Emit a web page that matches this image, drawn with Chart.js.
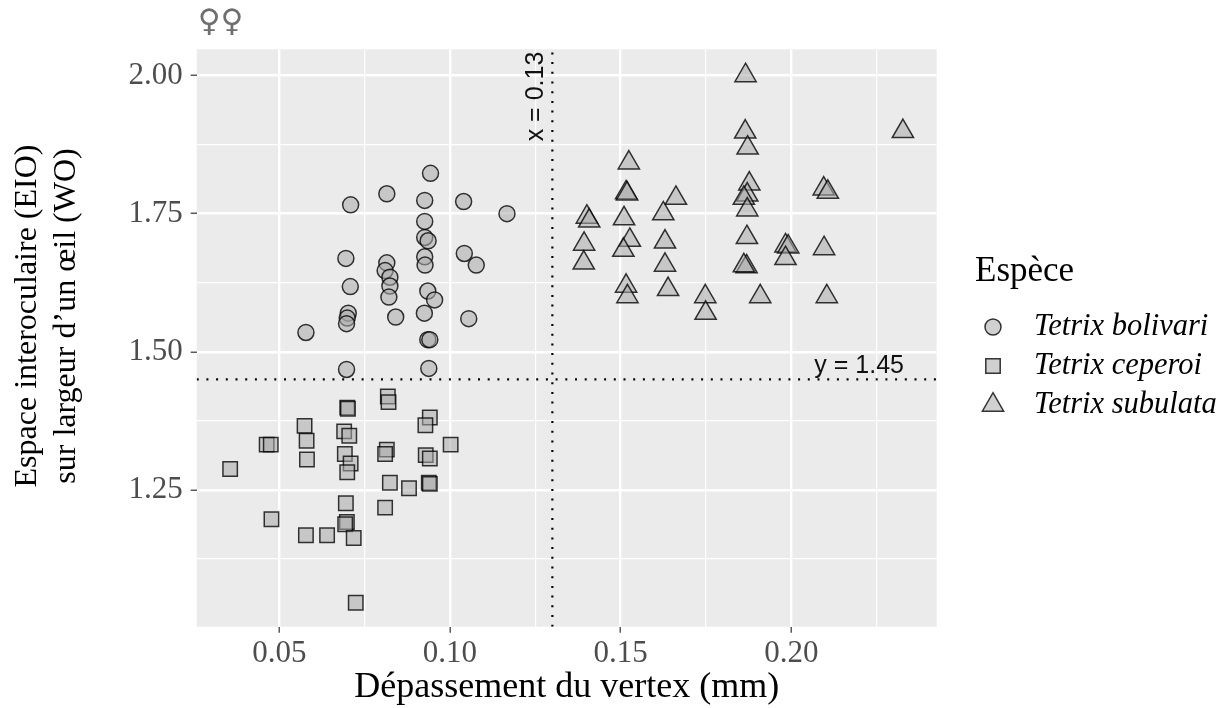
<!DOCTYPE html>
<html>
<head>
<meta charset="utf-8">
<script src="https://cdn.jsdelivr.net/npm/chart.js@4.4.1/dist/chart.umd.min.js"></script>
<style>
  html, body { margin: 0; padding: 0; background: #fff; }
</style>
</head>
<body>
<canvas id="chart" width="1231" height="708"></canvas>
<script>
// axis ticks (major ones get labels, minor ones only a thin grid line)
const xTicks = [0.05, 0.075, 0.10, 0.125, 0.15, 0.175, 0.20, 0.225];
const xMajor = [0.05, 0.10, 0.15, 0.20];
const yTicks = [1.125, 1.25, 1.375, 1.5, 1.625, 1.75, 1.875, 2.0];
const yMajor = [1.25, 1.5, 1.75, 2.0];
const xRange = [0.0258, 0.2426];
const yRange = [1.0025, 2.0475];

// thresholds
const xCut = 0.13;
const yCut = 1.45;

const species = ['Tetrix bolivari', 'Tetrix ceperoi', 'Tetrix subulata'];
const yTitle = ['Espace interoculaire (EIO)', 'sur largeur d\u2019un \u0153il (WO)'];

const bolivariX = [0.0943,0.0815,0.0709,0.0926,0.1040,0.1167,0.0926,0.0926,0.0936,0.0695,0.0815,0.0810,0.0824,0.0926,0.0927,0.1042,0.1077,0.0708,0.0824,0.0821,0.0935,0.0955,0.0702,0.0699,0.0697,0.0841,0.0925,0.1055,0.0578,0.0935,0.0941,0.0697,0.0938];
const bolivariY = [1.823,1.786,1.766,1.774,1.772,1.750,1.736,1.707,1.701,1.669,1.661,1.647,1.635,1.672,1.657,1.678,1.657,1.618,1.619,1.599,1.610,1.594,1.570,1.561,1.551,1.563,1.570,1.560,1.535,1.522,1.522,1.468,1.470];

const ceperoiX = [0.0818,0.0820,0.0699,0.0701,0.0941,0.0928,0.0574,0.0690,0.0705,0.0580,0.0463,0.0475,0.1002,0.0815,0.0810,0.0692,0.0929,0.0941,0.0581,0.0709,0.0699,0.0356,0.0824,0.0880,0.0938,0.0941,0.0695,0.0810,0.0477,0.0698,0.0693,0.0578,0.0640,0.0718,0.0724];
const ceperoiY = [1.419,1.409,1.399,1.397,1.381,1.367,1.366,1.356,1.348,1.339,1.332,1.332,1.332,1.323,1.315,1.315,1.313,1.307,1.305,1.298,1.282,1.288,1.263,1.253,1.263,1.261,1.226,1.218,1.197,1.192,1.188,1.168,1.168,1.163,1.046];

const subulataX = [0.1866,0.2327,0.1865,0.1872,0.1524,0.1877,0.1871,0.1861,0.1871,0.2095,0.2107,0.1516,0.1519,0.1662,0.1401,0.1408,0.1510,0.1625,0.1870,0.1527,0.1630,0.1393,0.1508,0.1983,0.1991,0.2096,0.1392,0.1630,0.1869,0.1861,0.1983,0.1516,0.1520,0.1639,0.1748,0.1749,0.1909,0.2104];
const subulataY = [2.000,1.899,1.898,1.869,1.842,1.804,1.784,1.778,1.757,1.795,1.789,1.788,1.786,1.778,1.744,1.737,1.741,1.750,1.707,1.702,1.699,1.695,1.684,1.692,1.690,1.687,1.661,1.657,1.654,1.656,1.669,1.619,1.600,1.613,1.600,1.570,1.600,1.600];

const pointFill = 'rgba(170,170,170,0.55)';
const pointEdge = 'rgba(0,0,0,0.78)';
const serif = '"Liberation Serif", "Times New Roman", serif';
const sans = '"Liberation Sans", Arial, sans-serif';

function zip(xs, ys) {
  return xs.map((x, i) => ({x: x, y: ys[i]}));
}
function isMajor(v, list) {
  return list.some(m => Math.abs(m - v) < 1e-9);
}

function speciesSet(label, xs, ys, style, radius) {
  return {
    type: 'scatter',
    label: label,
    data: zip(xs, ys),
    pointStyle: style,
    pointRadius: radius,
    pointHoverRadius: radius,
    backgroundColor: pointFill,
    borderColor: pointEdge,
    borderWidth: 1.5
  };
}

function cutLine(points) {
  return {
    type: 'line',
    label: 'cut',
    data: points,
    borderColor: '#000',
    borderWidth: 2.2,
    borderDash: [2, 7.7],
    pointRadius: 0,
    fill: false,
    showLine: true
  };
}

const datasets = [
  speciesSet(species[0], bolivariX, bolivariY, 'circle', 8),
  speciesSet(species[1], ceperoiX, ceperoiY, 'rect', 10.2),
  speciesSet(species[2], subulataX, subulataY, 'triangle', 12.3),
  cutLine([{x: xCut, y: yRange[0]}, {x: xCut, y: yRange[1]}]),
  cutLine([{x: xRange[0], y: yCut}, {x: xRange[1], y: yCut}])
];

// grey panel behind the plot
const panelBg = {
  id: 'panelBg',
  beforeDraw(chart) {
    const {ctx, chartArea: a} = chart;
    ctx.save();
    ctx.fillStyle = '#EBEBEB';
    ctx.fillRect(a.left, a.top, a.right - a.left, a.bottom - a.top);
    ctx.restore();
  }
};

// threshold labels, titles and legend
const extras = {
  id: 'extras',
  afterDraw(chart) {
    const {ctx, chartArea: a, scales} = chart;
    const mid = (a.top + a.bottom) / 2;
    ctx.save();

    // x = 0.13 (rotated)
    ctx.fillStyle = '#111';
    ctx.font = '25px ' + sans;
    ctx.save();
    ctx.translate(scales.x.getPixelForValue(xCut) - 9.7, a.top + 2.4);
    ctx.rotate(-Math.PI / 2);
    ctx.textAlign = 'right';
    ctx.textBaseline = 'alphabetic';
    ctx.fillText('x = ' + xCut, 0, 0);
    ctx.restore();

    // y = 1.45
    ctx.textAlign = 'right';
    ctx.textBaseline = 'alphabetic';
    ctx.fillText('y = ' + yCut, a.right - 32.7, scales.y.getPixelForValue(yCut) - 6.5);

    // y axis title, two lines
    ctx.fillStyle = '#000';
    ctx.font = '32px ' + serif;
    ctx.textAlign = 'center';
    ctx.textBaseline = 'middle';
    yTitle.forEach((t, i) => {
      ctx.save();
      ctx.translate(28 + 38.5 * i, mid - 22);
      ctx.rotate(-Math.PI / 2);
      ctx.fillText(t, 0, 0);
      ctx.restore();
    });

    // plot title
    ctx.fillStyle = '#6e6e6e';
    ctx.font = '31px "DejaVu Sans", sans-serif';
    ctx.textAlign = 'left';
    ctx.textBaseline = 'alphabetic';
    ctx.fillText('\u2640\u2640', a.left + 1, 31);

    // legend
    const lx = a.right + 38.3;
    ctx.fillStyle = '#000';
    ctx.font = '35px ' + serif;
    ctx.fillText('Esp\u00e8ce', lx, mid - 57);
    const styles = ['circle', 'rect', 'triangle'];
    const radii = [8, 10.2, 12.3];
    for (let i = 0; i < species.length; i++) {
      const yy = mid - 11 + 39 * i;
      ctx.fillStyle = pointFill;
      ctx.strokeStyle = pointEdge;
      ctx.lineWidth = 1.5;
      Chart.helpers.drawPoint(ctx, {pointStyle: styles[i], radius: radii[i], borderWidth: 1.5, rotation: 0}, lx + 18, yy);
      ctx.fillStyle = '#000';
      ctx.font = 'italic 30.5px ' + serif;
      ctx.textBaseline = 'middle';
      ctx.fillText(species[i], lx + 59, yy);
      ctx.textBaseline = 'alphabetic';
    }
    ctx.restore();
  }
};

new Chart(document.getElementById('chart'), {
  type: 'scatter',
  data: {datasets: datasets},
  plugins: [panelBg, extras],
  options: {
    responsive: false,
    animation: false,
    layout: {padding: {top: 49.3, right: 294.3, left: 0, bottom: 0}},
    plugins: {
      legend: {display: false},
      tooltip: {enabled: false}
    },
    scales: {
      x: {
        type: 'linear',
        min: xRange[0],
        max: xRange[1],
        afterBuildTicks: s => { s.ticks = xTicks.map(v => ({value: v})); },
        afterFit: s => { s.height = 81.3; },
        border: {display: false},
        grid: {
          color: '#FFFFFF',
          lineWidth: c => isMajor(c.tick.value, xMajor) ? 2.4 : 1.2,
          tickColor: c => isMajor(c.tick.value, xMajor) ? '#333333' : 'rgba(0,0,0,0)',
          tickLength: 6,
          tickWidth: 1.2
        },
        ticks: {
          autoSkip: false,
          maxRotation: 0,
          padding: 3,
          color: '#4D4D4D',
          font: {family: serif, size: 31},
          callback: v => isMajor(v, xMajor) ? v.toFixed(2) : ''
        },
        title: {
          display: true,
          text: 'D\u00e9passement du vertex (mm)',
          color: '#000',
          font: {family: serif, size: 36, lineHeight: 1.15},
          padding: {top: 0, bottom: 0}
        }
      },
      y: {
        type: 'linear',
        min: yRange[0],
        max: yRange[1],
        afterBuildTicks: s => { s.ticks = yTicks.map(v => ({value: v})); },
        afterFit: s => { s.width = 196.7; },
        border: {display: false},
        grid: {
          color: '#FFFFFF',
          lineWidth: c => isMajor(c.tick.value, yMajor) ? 2.4 : 1.2,
          tickColor: c => isMajor(c.tick.value, yMajor) ? '#333333' : 'rgba(0,0,0,0)',
          tickLength: 6,
          tickWidth: 1.2
        },
        ticks: {
          autoSkip: false,
          padding: 8,
          color: '#4D4D4D',
          font: {family: serif, size: 31},
          callback: v => isMajor(v, yMajor) ? v.toFixed(2) : ''
        },
        title: {display: false}
      }
    }
  }
});
</script>
</body>
</html>
